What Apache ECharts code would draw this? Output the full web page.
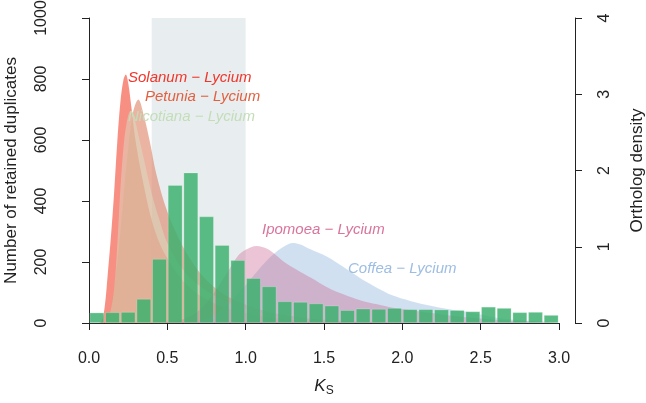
<!DOCTYPE html>
<html><head><meta charset="utf-8">
<script src="https://cdn.jsdelivr.net/npm/echarts@6/dist/echarts.min.js"></script>
<style>html,body{margin:0;padding:0;background:#fff}#c{width:646px;height:403px}</style>
</head><body><div id="c"></div>
<script>
// Histogram of retained duplicates (bins of width 0.1 from 0 to 3.0)
const binWidth = 0.1;
const dupCounts = [34,35,36,79,210,452,493,349,255,206,147,120,71,69,64,57,42,47,46,49,45,45,44,42,38,53,49,35,36,26];
// Ortholog density curves [Ks, density]
const solanum = [[0.06,0],[0.08,0.02],[0.10,0.21],[0.12,0.65],[0.14,1.13],[0.16,1.70],[0.18,2.36],[0.20,2.89],[0.22,3.19],[0.235,3.26],[0.25,3.15],[0.27,2.84],[0.30,2.35],[0.35,1.8],[0.40,1.35],[0.45,1.05],[0.5,0.85],[0.6,0.55],[0.7,0.37],[0.8,0.26],[0.9,0.18],[1.0,0.13],[1.2,0.06],[1.4,0.03],[1.6,0.01],[2.0,0]];
const petunia = [[0.10,0],[0.13,0.1],[0.16,0.45],[0.20,1.2],[0.24,2.1],[0.28,2.75],[0.315,2.93],[0.35,2.72],[0.39,2.36],[0.43,1.95],[0.5,1.46],[0.6,1.0],[0.7,0.68],[0.8,0.47],[0.9,0.33],[1.0,0.24],[1.1,0.17],[1.2,0.12],[1.4,0.06],[1.6,0.03],[1.8,0.015],[2.0,0]];
const nicotiana = [[0.10,0],[0.13,0.1],[0.16,0.45],[0.18,1.0],[0.20,1.75],[0.22,2.3],[0.24,2.62],[0.265,2.78],[0.29,2.68],[0.32,2.42],[0.35,2.15],[0.40,1.7],[0.45,1.35],[0.5,1.05],[0.6,0.7],[0.7,0.5],[0.8,0.36],[0.9,0.26],[1.0,0.19],[1.2,0.1],[1.4,0.05],[1.6,0.02],[2.0,0]];
const ipomoea = [[0.4,0],[0.5,0.01],[0.6,0.05],[0.7,0.16],[0.8,0.40],[0.9,0.72],[0.95,0.88],[1.0,0.96],[1.07,1.01],[1.14,0.97],[1.2,0.88],[1.26,0.78],[1.35,0.67],[1.42,0.59],[1.52,0.47],[1.62,0.38],[1.73,0.30],[1.84,0.245],[1.94,0.20],[2.05,0.17],[2.15,0.14],[2.3,0.10],[2.5,0.06],[2.7,0.03],[3.0,0.01]];
const coffea = [[0.6,0],[0.7,0.02],[0.8,0.1],[0.9,0.28],[1.0,0.50],[1.07,0.67],[1.13,0.81],[1.2,0.94],[1.25,1.01],[1.30,1.05],[1.35,1.03],[1.41,0.97],[1.52,0.87],[1.62,0.74],[1.73,0.59],[1.84,0.46],[1.94,0.36],[2.05,0.29],[2.15,0.24],[2.3,0.18],[2.4,0.15],[2.5,0.11],[2.6,0.07],[2.8,0.03],[3.0,0.01]];
const shadedRange = [0.4, 1.0];
const xTicks = [0.0,0.5,1.0,1.5,2.0,2.5,3.0];
const leftTicks = [0,200,400,600,800,1000];
const rightTicks = [0,1,2,3,4];

const FONT = '"Liberation Sans", Arial, sans-serif';
const chart = echarts.init(document.getElementById('c'), null, {renderer:'canvas'});
const barData = dupCounts.map((v,i)=>[+(i*binWidth + binWidth/2).toFixed(3), v]);

function curve(name, data, color, z){
  return {name, type:'line', xAxisIndex:0, yAxisIndex:1, data, smooth:0.35, symbol:'none',
    lineStyle:{width:0}, areaStyle:{color, opacity:1}, z, silent:true};
}
const axisCommon = {
  axisLine:{show:true, lineStyle:{color:'#222', width:1}},
  axisTick:{show:true, length:7, lineStyle:{color:'#222'}},
  splitLine:{show:false},
  axisLabel:{color:'#222', fontSize:16, fontFamily:FONT},
  nameTextStyle:{color:'#222', fontSize:17, fontFamily:FONT}
};
chart.setOption({
  animation:false,
  grid:{left:89, right:87, top:18, bottom:80, containLabel:false, outerBoundsMode:'none'},
  xAxis:[Object.assign({}, axisCommon, {type:'value', min:xTicks[0], max:xTicks[xTicks.length-1], interval:0.5, offset:12,
    axisLabel:Object.assign({}, axisCommon.axisLabel, {margin:16, formatter:v=>v.toFixed(1)}),
    name:'{k|K}{s|S}', nameLocation:'middle', nameGap:41,
    nameTextStyle:{rich:{k:{fontStyle:'italic', fontSize:17, fontFamily:FONT, color:'#222'}, s:{fontSize:12, fontFamily:FONT, color:'#222', verticalAlign:'bottom', padding:[9,0,0,0]}}}
  })],
  yAxis:[
    Object.assign({}, axisCommon, {type:'value', position:'left', min:leftTicks[0], max:leftTicks[leftTicks.length-1], interval:200, offset:20,
      axisLabel:Object.assign({}, axisCommon.axisLabel, {rotate:90, margin:19, formatter:v=>String(v)}),
      name:'Number of retained duplicates', nameLocation:'middle', nameGap:49}),
    Object.assign({}, axisCommon, {type:'value', position:'right', min:rightTicks[0], max:rightTicks[rightTicks.length-1], interval:1, offset:16,
      axisLabel:Object.assign({}, axisCommon.axisLabel, {rotate:90, margin:22, formatter:v=>String(v)}),
      name:'Ortholog density', nameLocation:'middle', nameGap:54, nameRotate:90})
  ],
  series:[
    {type:'line', data:[], z:1, silent:true,
      markArea:{silent:true, itemStyle:{color:'#e8eef0'}, data:[[{xAxis:shadedRange[0], yAxis:0},{xAxis:shadedRange[1], yAxis:1000}]]}},
    curve('Solanum', solanum, 'rgba(245,112,96,0.78)', 2),
    curve('Petunia', petunia, 'rgba(222,130,100,0.6)', 3),
    curve('Nicotiana', nicotiana, 'rgba(215,228,200,0.45)', 4),
    curve('Coffea', coffea, 'rgba(170,198,228,0.55)', 5),
    curve('Ipomoea', ipomoea, 'rgba(205,110,150,0.4)', 6),
    {name:'Duplicates', type:'bar', xAxisIndex:0, yAxisIndex:0, data:barData, barWidth:14.5, z:8,
      itemStyle:{color:'rgba(62,178,112,0.85)', borderColor:'rgba(255,255,255,0.35)', borderWidth:0.6}}
  ],
  graphic:[
    {type:'text', left:128, top:70, z:20, style:{text:'Solanum − Lycium', fill:'#f2352a', font:'italic 15px '+FONT}},
    {type:'text', left:145, top:89, z:20, style:{text:'Petunia − Lycium', fill:'#e2603f', font:'italic 15px '+FONT}},
    {type:'text', left:128, top:109, z:20, style:{text:'Nicotiana − Lycium', fill:'#c3ddb9', font:'italic 15px '+FONT}},
    {type:'text', left:262, top:222, z:20, style:{text:'Ipomoea − Lycium', fill:'#d9749c', font:'italic 15px '+FONT}},
    {type:'text', left:348, top:261, z:20, style:{text:'Coffea − Lycium', fill:'#9dbde2', font:'italic 15px '+FONT}}
  ]
});
</script></body></html>
